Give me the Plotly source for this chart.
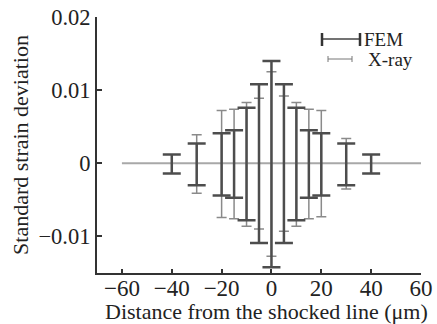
import plotly.graph_objects as go

# Data
positions = [-40, -30, -20, -15, -10, -5, 0, 5, 10, 15, 20, 30, 40]
fem_plus = [0.0012, 0.0027, 0.0041, 0.0045, 0.0076, 0.0108, 0.0140, 0.0108, 0.0076, 0.0045, 0.0041, 0.0027, 0.0012]
fem_minus = [0.0014, 0.0030, 0.0044, 0.0047, 0.0078, 0.0109, 0.0142, 0.0109, 0.0078, 0.0047, 0.0044, 0.0030, 0.0014]
xray_positions = [-30, -20, -15, -10, -5, 0, 5, 10, 15, 20, 30]
xray_plus = [0.0039, 0.0072, 0.0074, 0.0083, 0.0089, 0.0125, 0.0092, 0.0083, 0.0074, 0.0072, 0.0034]
xray_minus = [0.0041, 0.0074, 0.0076, 0.0086, 0.0090, 0.0127, 0.0093, 0.0086, 0.0076, 0.0073, 0.0035]
mean_fem = [0.0] * len(positions)
mean_xray = [0.0] * len(xray_positions)
baseline_x = [-60, 60]
baseline_y = [0, 0]

x_ticks = [-60, -40, -20, 0, 20, 40, 60]
x_ticktext = ["\u221260", "\u221240", "\u221220", "0", "20", "40", "60"]
y_ticks = [-0.01, 0, 0.01, 0.02]
y_ticktext = ["\u22120.01", "0", "0.01", "0.02"]

FONT = "Liberation Serif, Times New Roman, serif"
FEM_C = "#4d4d4d"
XRAY_C = "#8a8a8a"

fig = go.Figure()
fig.add_trace(go.Scatter(x=baseline_x, y=baseline_y, mode="lines",
                         line=dict(color="#a8a8a8", width=2), showlegend=False,
                         hoverinfo="skip"))
fig.add_trace(go.Scatter(x=xray_positions, y=mean_xray, mode="markers",
                         marker=dict(size=0.1, color="rgba(0,0,0,0)"),
                         error_y=dict(type="data", symmetric=False, array=xray_plus,
                                      arrayminus=xray_minus, color=XRAY_C,
                                      thickness=1.5, width=5),
                         showlegend=False, name="X-ray"))
fig.add_trace(go.Scatter(x=positions, y=mean_fem, mode="markers",
                         marker=dict(size=0.1, color="rgba(0,0,0,0)"),
                         error_y=dict(type="data", symmetric=False, array=fem_plus,
                                      arrayminus=fem_minus, color=FEM_C,
                                      thickness=2.5, width=9),
                         showlegend=False, name="FEM"))

# Manual legend (paper coordinates)
L, R, T, B = 97, 421, 17, 273
def px(xp):
    return (xp - L) / (R - L)
def py(yp):
    return (B - yp) / (B - T)

shapes = []
shapes.append(dict(type="line", xref="paper", yref="paper", x0=px(322), x1=px(360), y0=py(39), y1=py(39),
                   line=dict(color="#444", width=1.5)))
for xx in (322, 360):
    shapes.append(dict(type="line", xref="paper", yref="paper", x0=px(xx), x1=px(xx), y0=py(33), y1=py(46),
                       line=dict(color="#333", width=2.5)))
shapes.append(dict(type="line", xref="paper", yref="paper", x0=px(328), x1=px(352), y0=py(59), y1=py(59),
                   line=dict(color="#777", width=1)))
for xx in (328, 352):
    shapes.append(dict(type="line", xref="paper", yref="paper", x0=px(xx), x1=px(xx), y0=py(56), y1=py(62),
                       line=dict(color="#777", width=1)))

annotations = [
    dict(text="FEM", xref="paper", yref="paper", x=px(362), y=py(39), xanchor="left", yanchor="middle",
         showarrow=False, font=dict(family=FONT, size=19, color="#222")),
    dict(text="X-ray", xref="paper", yref="paper", x=px(366), y=py(59), xanchor="left", yanchor="middle",
         showarrow=False, font=dict(family=FONT, size=19, color="#222")),
    dict(text="Distance from the shocked line (\u03bcm)", xref="paper", yref="paper",
         x=px(266), y=py(311), xanchor="center", yanchor="middle",
         showarrow=False, font=dict(family=FONT, size=22, color="#222")),
]

fig.update_layout(
    width=437, height=324,
    margin=dict(l=L, r=437 - R, t=T, b=324 - B, autoexpand=False),
    plot_bgcolor="white", paper_bgcolor="white",
    font=dict(family=FONT, size=22, color="#222"),
    shapes=shapes, annotations=annotations,
    showlegend=False,
)
fig.update_xaxes(range=[-70, 60], tickvals=x_ticks, ticktext=x_ticktext, automargin=False,
                 tickfont=dict(family=FONT, size=23), ticklabelstandoff=-7,
                 showgrid=False, zeroline=False, showline=True, linecolor="#333", linewidth=2,
                 ticks="inside", ticklen=4, tickcolor="#333", tickwidth=1.5)
fig.update_yaxes(range=[-0.015, 0.02], tickvals=y_ticks, ticktext=y_ticktext, automargin=False,
                 tickfont=dict(family=FONT, size=22.5),
                 showgrid=False, zeroline=False, showline=True, linecolor="#333", linewidth=2,
                 ticks="inside", ticklen=5, tickcolor="#333", tickwidth=1.5,
                 title=dict(text="Standard strain deviation", standoff=4,
                            font=dict(family=FONT, size=22)))

fig.write_html("out.html")
